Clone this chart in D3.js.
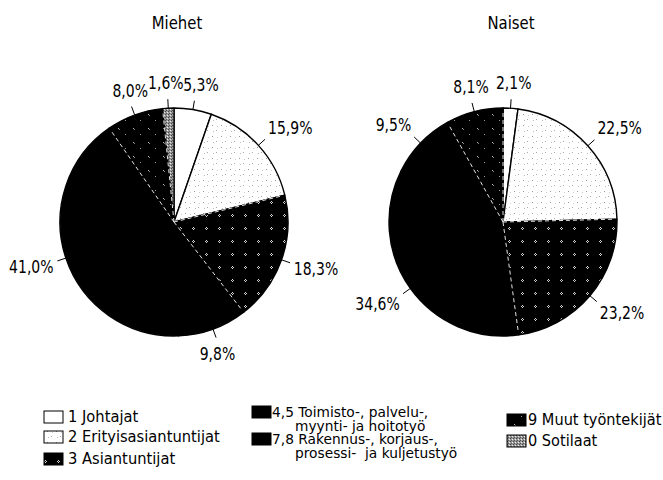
<!DOCTYPE html>
<html>
<head>
<meta charset="utf-8">
<script src="https://cdn.jsdelivr.net/npm/d3@7"></script>
<style>
  body { margin: 0; background: #fff; }
  svg text { font-family: "DejaVu Sans", sans-serif; fill: #000; }
</style>
</head>
<body>
<svg id="chart" width="663" height="480"></svg>
<script>
// ammattiryhmät, osuus (%)
const categories = [
  '1 Johtajat',
  '2 Erityisasiantuntijat',
  '3 Asiantuntijat',
  '4,5 Toimisto-, palvelu-,\nmyynti- ja hoitotyö',
  '7,8 Rakennus-, korjaus-,\nprosessi-  ja kuljetustyö',
  '9 Muut työntekijät',
  '0 Sotilaat'
]
const miehet = [5.3, 15.9, 18.3, 9.8, 41.0, 8.0, 1.6]
const naiset = [2.1, 22.5, 23.2, 34.6, 9.5, 8.1, 0]
const titles = ['Miehet', 'Naiset']

const fills = ['#fff', 'url(#p-light)', 'url(#p-dots)', '#000', '#000', 'url(#p-sparse)', 'url(#p-hatch)']
const dashedSlices = [2, 5] // tummat kuvioidut sektorit, valkoinen katkoviivareuna

const svg = d3.select('#chart')
const fi = d3.formatLocale({ decimal: ',', thousands: ' ', grouping: [3], currency: ['', ' €'] })
const fmt = fi.format('.1f')

// kapeampi teksti: vaakasuora skaalaus
function label (parent, x, y, str, size, sx, anchor) {
  return parent.append('text')
    .attr('transform', `translate(${x},${y}) scale(${sx},1)`)
    .attr('text-anchor', anchor || 'start')
    .attr('font-size', size)
    .attr('xml:space', 'preserve')
    .text(str)
}

// kuviot
const defs = svg.append('defs')
const pat = (id, w, h, bg, dots) => {
  const p = defs.append('pattern').attr('id', id).attr('patternUnits', 'userSpaceOnUse')
    .attr('width', w).attr('height', h)
  p.append('rect').attr('width', w).attr('height', h).attr('fill', bg)
  dots.forEach(([x, y, c]) => p.append('rect').attr('x', x).attr('y', y).attr('width', 1).attr('height', 1).attr('fill', c))
}
pat('p-light', 9, 11, '#fff', [[2, 2, '#999'], [6, 7, '#aaa'], [3, 8, '#bbb'], [7, 3, '#ccc']])
pat('p-dots', 13, 13, '#000', [[6, 5, '#ddd'], [5, 6, '#ccc'], [7, 6, '#ccc'], [6, 7, '#ddd']])
pat('p-sparse', 15, 14, '#000', [[4, 4, '#bbb'], [11, 10, '#999'], [5, 5, '#888']])
pat('p-hatch', 3, 3, '#999', [[0, 0, '#444'], [2, 1, '#eee'], [1, 2, '#555']])

const r = 114
const cy = 222
const centers = [174, 503]
const titleX = [177, 511]
const pctSize = 17.5
const pctScale = 0.8

const pie = d3.pie().sort(null).value(d => d)
const arc = d3.arc().innerRadius(0).outerRadius(r)

function drawPie (values, i) {
  label(svg, titleX[i], 29, titles[i], 17.5, 0.85, 'middle')

  const g = svg.append('g').attr('transform', `translate(${centers[i]},${cy})`)
  const arcs = pie(values)

  g.selectAll('path.slice').data(arcs).join('path')
    .attr('class', 'slice')
    .attr('d', arc)
    .attr('fill', (d, j) => fills[j])
    .attr('stroke', '#000')
    .attr('stroke-width', 1.4)
    .attr('stroke-linejoin', 'round')

  // valkoiset katkoviivat kuvioitujen sektorien reunoilla
  arcs.forEach((d, j) => {
    if (!dashedSlices.includes(j) || d.value === 0) return
    ;[d.startAngle, d.endAngle].forEach(a => {
      g.append('line')
        .attr('x1', 0).attr('y1', 0)
        .attr('x2', (r - 2) * Math.sin(a)).attr('y2', -(r - 2) * Math.cos(a))
        .attr('stroke', '#fff').attr('stroke-width', 0.9)
        .attr('stroke-dasharray', '4,3')
    })
  })

  // prosenttiluvut
  arcs.filter(d => d.value > 0).forEach(d => {
    const a = (d.startAngle + d.endAngle) / 2
    const s = Math.sin(a)
    const c = Math.cos(a)
    g.append('line')
      .attr('x1', r * s).attr('y1', -r * c)
      .attr('x2', (r + 9) * s).attr('y2', -(r + 9) * c)
      .attr('stroke', '#000').attr('stroke-width', 1)
    const x = (r + 13) * s
    const y = -(r + 13) * c
    const by = y + (c > 0 ? 4 - c * 10 : 6 - c * 14)
    const t = label(g, 0, 0, fmt(d.value) + '%', pctSize, pctScale, 'middle')
    const w = t.node().getComputedTextLength() * pctScale
    const f = Math.abs(s) >= 0.5 ? Math.sign(s) : Math.abs(s) < 0.2 ? s * 2 : 0
    t.attr('transform', `translate(${x + f * w / 2},${by}) scale(${pctScale},1)`)
  })
}

drawPie(miehet, 0)
drawPie(naiset, 1)

// selite
const legendCols = [
  { box: 44, text: 68, size: 15, scale: 0.98, gap: 12.5, items: [0, 1, 2], rows: [422, 442, 464] },
  { box: 252, text: 272, size: 13.5, scale: 1.02, gap: 13.5, items: [3, 4], rows: [417, 444] },
  { box: 507, text: 528, size: 15, scale: 0.97, gap: 12.5, items: [5, 6], rows: [425, 446] }
]
const legend = svg.append('g')
legendCols.forEach(col => {
  col.items.forEach((k, n) => {
    const base = col.rows[n]
    legend.append('rect')
      .attr('x', col.box).attr('y', base - 11)
      .attr('width', 19).attr('height', 12)
      .attr('fill', fills[k]).attr('stroke', '#000').attr('stroke-width', 1)
    categories[k].split('\n').forEach((t, m) => {
      label(legend, m === 0 ? col.text : col.text + 23, base + m * col.gap, t, col.size, col.scale)
    })
  })
})
</script>
</body>
</html>
